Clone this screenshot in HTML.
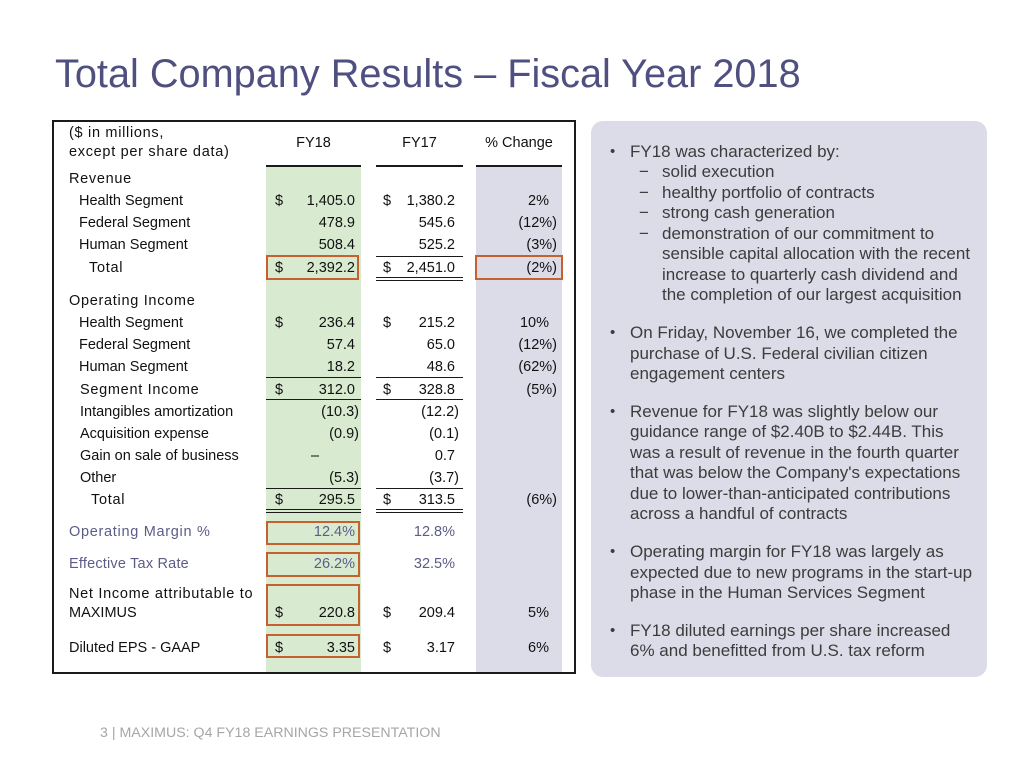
<!DOCTYPE html>
<html><head><meta charset="utf-8">
<style>
*{margin:0;padding:0;box-sizing:border-box}
html,body{width:1024px;height:768px;background:#fff;overflow:hidden}
body{position:relative;font-family:"Liberation Sans",Arial,sans-serif}
.a{position:absolute;white-space:nowrap}
.t{position:absolute;white-space:nowrap;font-size:14.5px;line-height:16px;color:#111}
.sp{letter-spacing:0.7px}
.b{color:#5c5c88}
.r18{right:669px}.n18{right:665px}
.r17{right:569px}.n17{right:565px}
.rp{right:475px}.np{right:467px}
.d18{left:275px}.d17{left:383px}
.ln{position:absolute;background:#1a1a1a;height:1.5px}
.dbl{position:absolute;border-top:1.5px solid #1a1a1a;border-bottom:1.5px solid #1a1a1a;height:4.5px}
.ob{position:absolute;border:2.5px solid #c4612e}
.p{position:absolute;font-size:17px;line-height:20.5px;color:#3c3c3c;white-space:nowrap}
.bul{position:absolute;font-size:15px;line-height:20.5px;color:#3c3c3c}
.dash{position:absolute;font-size:17px;line-height:20.5px;color:#3c3c3c}
</style></head><body>

<div class="a" style="left:55px;top:54px;font-size:39.7px;line-height:40px;color:#4f5080">Total Company Results – Fiscal Year 2018</div>

<!-- table box -->
<div class="a" style="left:52px;top:120px;width:524px;height:554px;border:2px solid #1a1a1a"></div>
<div class="a" style="left:266px;top:167px;width:95px;height:505px;background:#d8ebd0"></div>
<div class="a" style="left:476px;top:167px;width:86px;height:505px;background:#dcdce9"></div>

<!-- header -->
<div class="t sp" style="left:69px;top:125px">($ in millions,</div>
<div class="t sp" style="left:69px;top:144px">except per share data)</div>
<div class="t" style="left:266px;width:95px;text-align:center;top:135px">FY18</div>
<div class="t" style="left:376px;width:87px;text-align:center;top:135px">FY17</div>
<div class="t" style="left:476px;width:86px;text-align:center;top:135px">% Change</div>
<div class="ln" style="left:266px;width:95px;top:165px;height:2px"></div>
<div class="ln" style="left:376px;width:87px;top:165px;height:2px"></div>
<div class="ln" style="left:476px;width:86px;top:165px;height:2px"></div>

<!-- Revenue -->
<div class="t sp" style="left:69px;top:171px">Revenue</div>

<div class="t" style="left:79px;top:193px">Health Segment</div>
<div class="t d18" style="top:193px">$</div><div class="t r18" style="top:193px">1,405.0</div>
<div class="t d17" style="top:193px">$</div><div class="t r17" style="top:193px">1,380.2</div>
<div class="t rp" style="top:193px">2%</div>

<div class="t" style="left:79px;top:215px">Federal Segment</div>
<div class="t r18" style="top:215px">478.9</div>
<div class="t r17" style="top:215px">545.6</div>
<div class="t np" style="top:215px">(12%)</div>

<div class="t" style="left:79px;top:237px">Human Segment</div>
<div class="t r18" style="top:237px">508.4</div>
<div class="t r17" style="top:237px">525.2</div>
<div class="t np" style="top:237px">(3%)</div>

<div class="ln" style="left:376px;width:87px;top:255.5px"></div>
<div class="t sp" style="left:89px;top:260px">Total</div>
<div class="t d18" style="top:260px">$</div><div class="t r18" style="top:260px">2,392.2</div>
<div class="t d17" style="top:260px">$</div><div class="t r17" style="top:260px">2,451.0</div>
<div class="t np" style="top:260px">(2%)</div>
<div class="dbl" style="left:376px;width:87px;top:276.5px"></div>
<div class="ob" style="left:266px;top:255px;width:93px;height:25px"></div>
<div class="ob" style="left:475px;top:255px;width:88px;height:25px"></div>

<!-- Operating income -->
<div class="t sp" style="left:69px;top:293px">Operating Income</div>

<div class="t" style="left:79px;top:315px">Health Segment</div>
<div class="t d18" style="top:315px">$</div><div class="t r18" style="top:315px">236.4</div>
<div class="t d17" style="top:315px">$</div><div class="t r17" style="top:315px">215.2</div>
<div class="t rp" style="top:315px">10%</div>

<div class="t" style="left:79px;top:337px">Federal Segment</div>
<div class="t r18" style="top:337px">57.4</div>
<div class="t r17" style="top:337px">65.0</div>
<div class="t np" style="top:337px">(12%)</div>

<div class="t" style="left:79px;top:359px">Human Segment</div>
<div class="t r18" style="top:359px">18.2</div>
<div class="t r17" style="top:359px">48.6</div>
<div class="t np" style="top:359px">(62%)</div>

<div class="ln" style="left:266px;width:95px;top:376.5px"></div>
<div class="ln" style="left:376px;width:87px;top:376.5px"></div>
<div class="t sp" style="left:80px;top:382px">Segment Income</div>
<div class="t d18" style="top:382px">$</div><div class="t r18" style="top:382px">312.0</div>
<div class="t d17" style="top:382px">$</div><div class="t r17" style="top:382px">328.8</div>
<div class="t np" style="top:382px">(5%)</div>
<div class="ln" style="left:266px;width:95px;top:398.5px"></div>
<div class="ln" style="left:376px;width:87px;top:398.5px"></div>

<div class="t" style="left:80px;top:404px">Intangibles amortization</div>
<div class="t n18" style="top:404px">(10.3)</div>
<div class="t n17" style="top:404px">(12.2)</div>

<div class="t" style="left:80px;top:426px">Acquisition expense</div>
<div class="t n18" style="top:426px">(0.9)</div>
<div class="t n17" style="top:426px">(0.1)</div>

<div class="t" style="left:80px;top:448px">Gain on sale of business</div>
<div class="t" style="left:311px;top:448px">–</div>
<div class="t r17" style="top:448px">0.7</div>

<div class="t" style="left:80px;top:470px">Other</div>
<div class="t n18" style="top:470px">(5.3)</div>
<div class="t n17" style="top:470px">(3.7)</div>

<div class="ln" style="left:266px;width:95px;top:487.5px"></div>
<div class="ln" style="left:376px;width:87px;top:487.5px"></div>
<div class="t sp" style="left:91px;top:492px">Total</div>
<div class="t d18" style="top:492px">$</div><div class="t r18" style="top:492px">295.5</div>
<div class="t d17" style="top:492px">$</div><div class="t r17" style="top:492px">313.5</div>
<div class="t np" style="top:492px">(6%)</div>
<div class="dbl" style="left:266px;width:95px;top:508.5px"></div>
<div class="dbl" style="left:376px;width:87px;top:508.5px"></div>

<!-- margins -->
<div class="t sp b" style="left:69px;top:524px">Operating Margin %</div>
<div class="t r18 b" style="top:524px">12.4%</div>
<div class="t r17 b" style="top:524px">12.8%</div>
<div class="ob" style="left:266px;top:521px;width:94px;height:24px"></div>

<div class="t b" style="left:69px;top:556px;letter-spacing:0.2px">Effective Tax Rate</div>
<div class="t r18 b" style="top:556px">26.2%</div>
<div class="t r17 b" style="top:556px">32.5%</div>
<div class="ob" style="left:266px;top:552px;width:94px;height:25px"></div>

<div class="t sp" style="left:69px;top:586px">Net Income attributable to</div>
<div class="t" style="left:69px;top:605px">MAXIMUS</div>
<div class="t d18" style="top:605px">$</div><div class="t r18" style="top:605px">220.8</div>
<div class="t d17" style="top:605px">$</div><div class="t r17" style="top:605px">209.4</div>
<div class="t rp" style="top:605px">5%</div>
<div class="ob" style="left:266px;top:584px;width:94px;height:42px"></div>

<div class="t" style="left:69px;top:640px">Diluted EPS - GAAP</div>
<div class="t d18" style="top:640px">$</div><div class="t r18" style="top:640px">3.35</div>
<div class="t d17" style="top:640px">$</div><div class="t r17" style="top:640px">3.17</div>
<div class="t rp" style="top:640px">6%</div>
<div class="ob" style="left:266px;top:634px;width:94px;height:24px"></div>

<!-- right panel -->
<div class="a" style="left:591px;top:121px;width:396px;height:556px;background:#dcdce9;border-radius:12px"></div>

<div class="bul" style="left:610px;top:142px">•</div>
<div class="p" style="left:630px;top:142px">FY18 was characterized by:</div>
<div class="dash" style="left:639px;top:162px">−<br>−<br>−<br>−</div>
<div class="p" style="left:662px;top:162px">solid execution<br>healthy portfolio of contracts<br>strong cash generation<br>demonstration of our commitment to<br>sensible capital allocation with the recent<br>increase to quarterly cash dividend and<br>the completion of our largest acquisition</div>

<div class="bul" style="left:610px;top:323px">•</div>
<div class="p" style="left:630px;top:323px;line-height:20.7px">On Friday, November 16, we completed the<br>purchase of U.S. Federal civilian citizen<br>engagement centers</div>

<div class="bul" style="left:610px;top:402px">•</div>
<div class="p" style="left:630px;top:402px;line-height:20.4px">Revenue for FY18 was slightly below our<br>guidance range of $2.40B to $2.44B. This<br>was a result of revenue in the fourth quarter<br>that was below the Company's expectations<br>due to lower-than-anticipated contributions<br>across a handful of contracts</div>

<div class="bul" style="left:610px;top:542px">•</div>
<div class="p" style="left:630px;top:542px">Operating margin for FY18 was largely as<br>expected due to new programs in the start-up<br>phase in the Human Services Segment</div>

<div class="bul" style="left:610px;top:621px">•</div>
<div class="p" style="left:630px;top:621px;line-height:20px">FY18 diluted earnings per share increased<br>6% and benefitted from U.S. tax reform</div>

<div class="a" style="left:100px;top:725px;font-size:14.2px;line-height:16px;color:#a6a6a6">3 | MAXIMUS: Q4 FY18 EARNINGS PRESENTATION</div>

</body></html>
